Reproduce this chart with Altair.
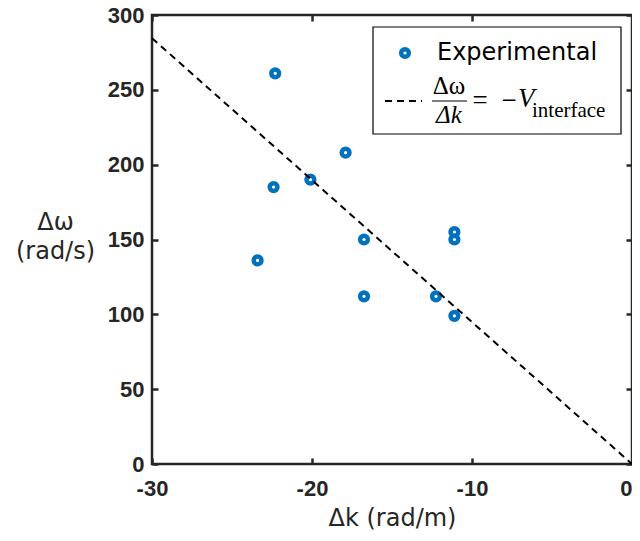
import altair as alt
import pandas as pd

# ---- data ----
dk = [-22.3, -22.4, -20.1, -17.9, -23.4, -16.75, -16.75, -12.25, -11.1, -11.1, -11.1]
dw = [261, 185, 190, 208, 136, 150, 112, 112, 155, 150, 99]
line_k = [-30, 0]
line_w = [284.5, 0]
x_ticks = [-30, -20, -10, 0]
y_ticks = [0, 50, 100, 150, 200, 250, 300]

pts = pd.DataFrame({"dk": dk, "dw": dw})
ln = pd.DataFrame({"dk": line_k, "dw": line_w})
one = pd.DataFrame({"a": [0]})

AX = "#262626"
BLUE = "#0072BD"
W, H = 480, 449

xscale = alt.Scale(domain=[-30, 0], nice=False, zero=False)
yscale = alt.Scale(domain=[0, 300], nice=False, zero=False)

common = dict(domain=False, grid=False, tickSize=6, tickWidth=2.5, tickColor=AX,
              labelFont="Liberation Sans", labelFontWeight="bold", labelFontSize=22,
              labelColor=AX, labelFlush=False, labelOverlap=False, offset=-6,
              labelExpr="replace(datum.label, '\u2212', '-')")

x_bottom = alt.Axis(orient="bottom", values=x_ticks, labelPadding=14,
                    labelAlign={"expr": "datum.value == 0 ? 'right' : 'center'"},
                    title="Δk (rad/m)", titleFont="DejaVu Sans", titleFontWeight="normal",
                    titleFontSize=24, titleColor=AX, titleBaseline="alphabetic", titleY=67,
                    **common)
y_left = alt.Axis(orient="left", values=y_ticks, labelPadding=8,
                  title=["Δω", "(rad/s)"], titleFont="DejaVu Sans", titleFontWeight="normal",
                  titleFontSize=24, titleColor=AX, titleAngle=0, titleAlign="center",
                  titleBaseline="middle", titleLineHeight=29, titleX=-103, titleY=207,
                  **common)
x_top = alt.Axis(orient="top", values=x_ticks, labels=False, title=None,
                 domain=False, grid=False, tickSize=6, tickWidth=2.5, tickColor=AX, offset=-6)
y_right = alt.Axis(orient="right", values=y_ticks, labels=False, title=None,
                   domain=False, grid=False, tickSize=6, tickWidth=2.5, tickColor=AX, offset=-6)

points = alt.Chart(pts).mark_point(shape="circle", filled=False, size=60, strokeWidth=4.5,
                                   color=BLUE, opacity=1).encode(
    x=alt.X("dk:Q", scale=xscale, axis=x_bottom),
    y=alt.Y("dw:Q", scale=yscale, axis=y_left),
)

line = alt.Chart(ln).mark_line(color="black", strokeWidth=2, strokeDash=[7, 5]).encode(
    x=alt.X("dk:Q", scale=xscale, axis=x_top),
    y=alt.Y("dw:Q", scale=yscale, axis=y_right),
)

# ---- manual legend (pixel positions inside the plot area) ----
box = alt.Chart(one).mark_rect(fill="white", stroke="black", strokeWidth=1.2).encode(
    x=alt.value(221), x2=alt.value(469), y=alt.value(12), y2=alt.value(119))
leg_pt = alt.Chart(one).mark_point(shape="circle", filled=False, size=60, strokeWidth=4.5,
                                   color=BLUE, opacity=1).encode(
    x=alt.value(253), y=alt.value(38))
leg_txt = alt.Chart(one).mark_text(text="Experimental", font="DejaVu Sans", fontSize=24,
                                   align="left", baseline="middle", color="black").encode(
    x=alt.value(285), y=alt.value(38))
leg_dash = alt.Chart(one).mark_rule(color="black", strokeWidth=2.2, strokeDash=[7, 5]).encode(
    x=alt.value(233), x2=alt.value(270), y=alt.value(86))
num = alt.Chart(one).mark_text(text="Δω", font="Liberation Serif", fontSize=25,
                               align="center", baseline="middle", color="black").encode(
    x=alt.value(297), y=alt.value(71))
bar = alt.Chart(one).mark_rule(color="black", strokeWidth=1.2).encode(
    x=alt.value(280), x2=alt.value(315), y=alt.value(86))
den = alt.Chart(one).mark_text(text="Δk", font="Liberation Serif", fontSize=25, fontStyle="italic",
                               align="center", baseline="middle", color="black").encode(
    x=alt.value(297), y=alt.value(100))
eq = alt.Chart(one).mark_text(text="=", font="Liberation Serif", fontSize=27,
                              align="center", baseline="middle", color="black").encode(
    x=alt.value(328), y=alt.value(86))
minus = alt.Chart(one).mark_text(text="−", font="Liberation Serif", fontSize=27,
                                 align="center", baseline="middle", color="black").encode(
    x=alt.value(357), y=alt.value(86))
vv = alt.Chart(one).mark_text(text="V", font="Liberation Serif", fontSize=27, fontStyle="italic",
                              align="left", baseline="middle", color="black").encode(
    x=alt.value(366), y=alt.value(84))
sub = alt.Chart(one).mark_text(text="interface", font="Liberation Serif", fontSize=21,
                               align="left", baseline="middle", color="black").encode(
    x=alt.value(380), y=alt.value(96))

chart = alt.layer(points, line, box, leg_pt, leg_txt, leg_dash, num, bar, den, eq, minus, vv, sub).resolve_axis(
    x="independent", y="independent"
).properties(
    width=W, height=H,
    background="white",
    autosize=alt.AutoSizeParams(type="none"),
    padding={"left": 144, "top": 7, "right": 0, "bottom": 68},
).configure_view(stroke=AX, strokeWidth=2.5)

chart.save("out.html", embed_options={"renderer": "svg", "actions": False})
